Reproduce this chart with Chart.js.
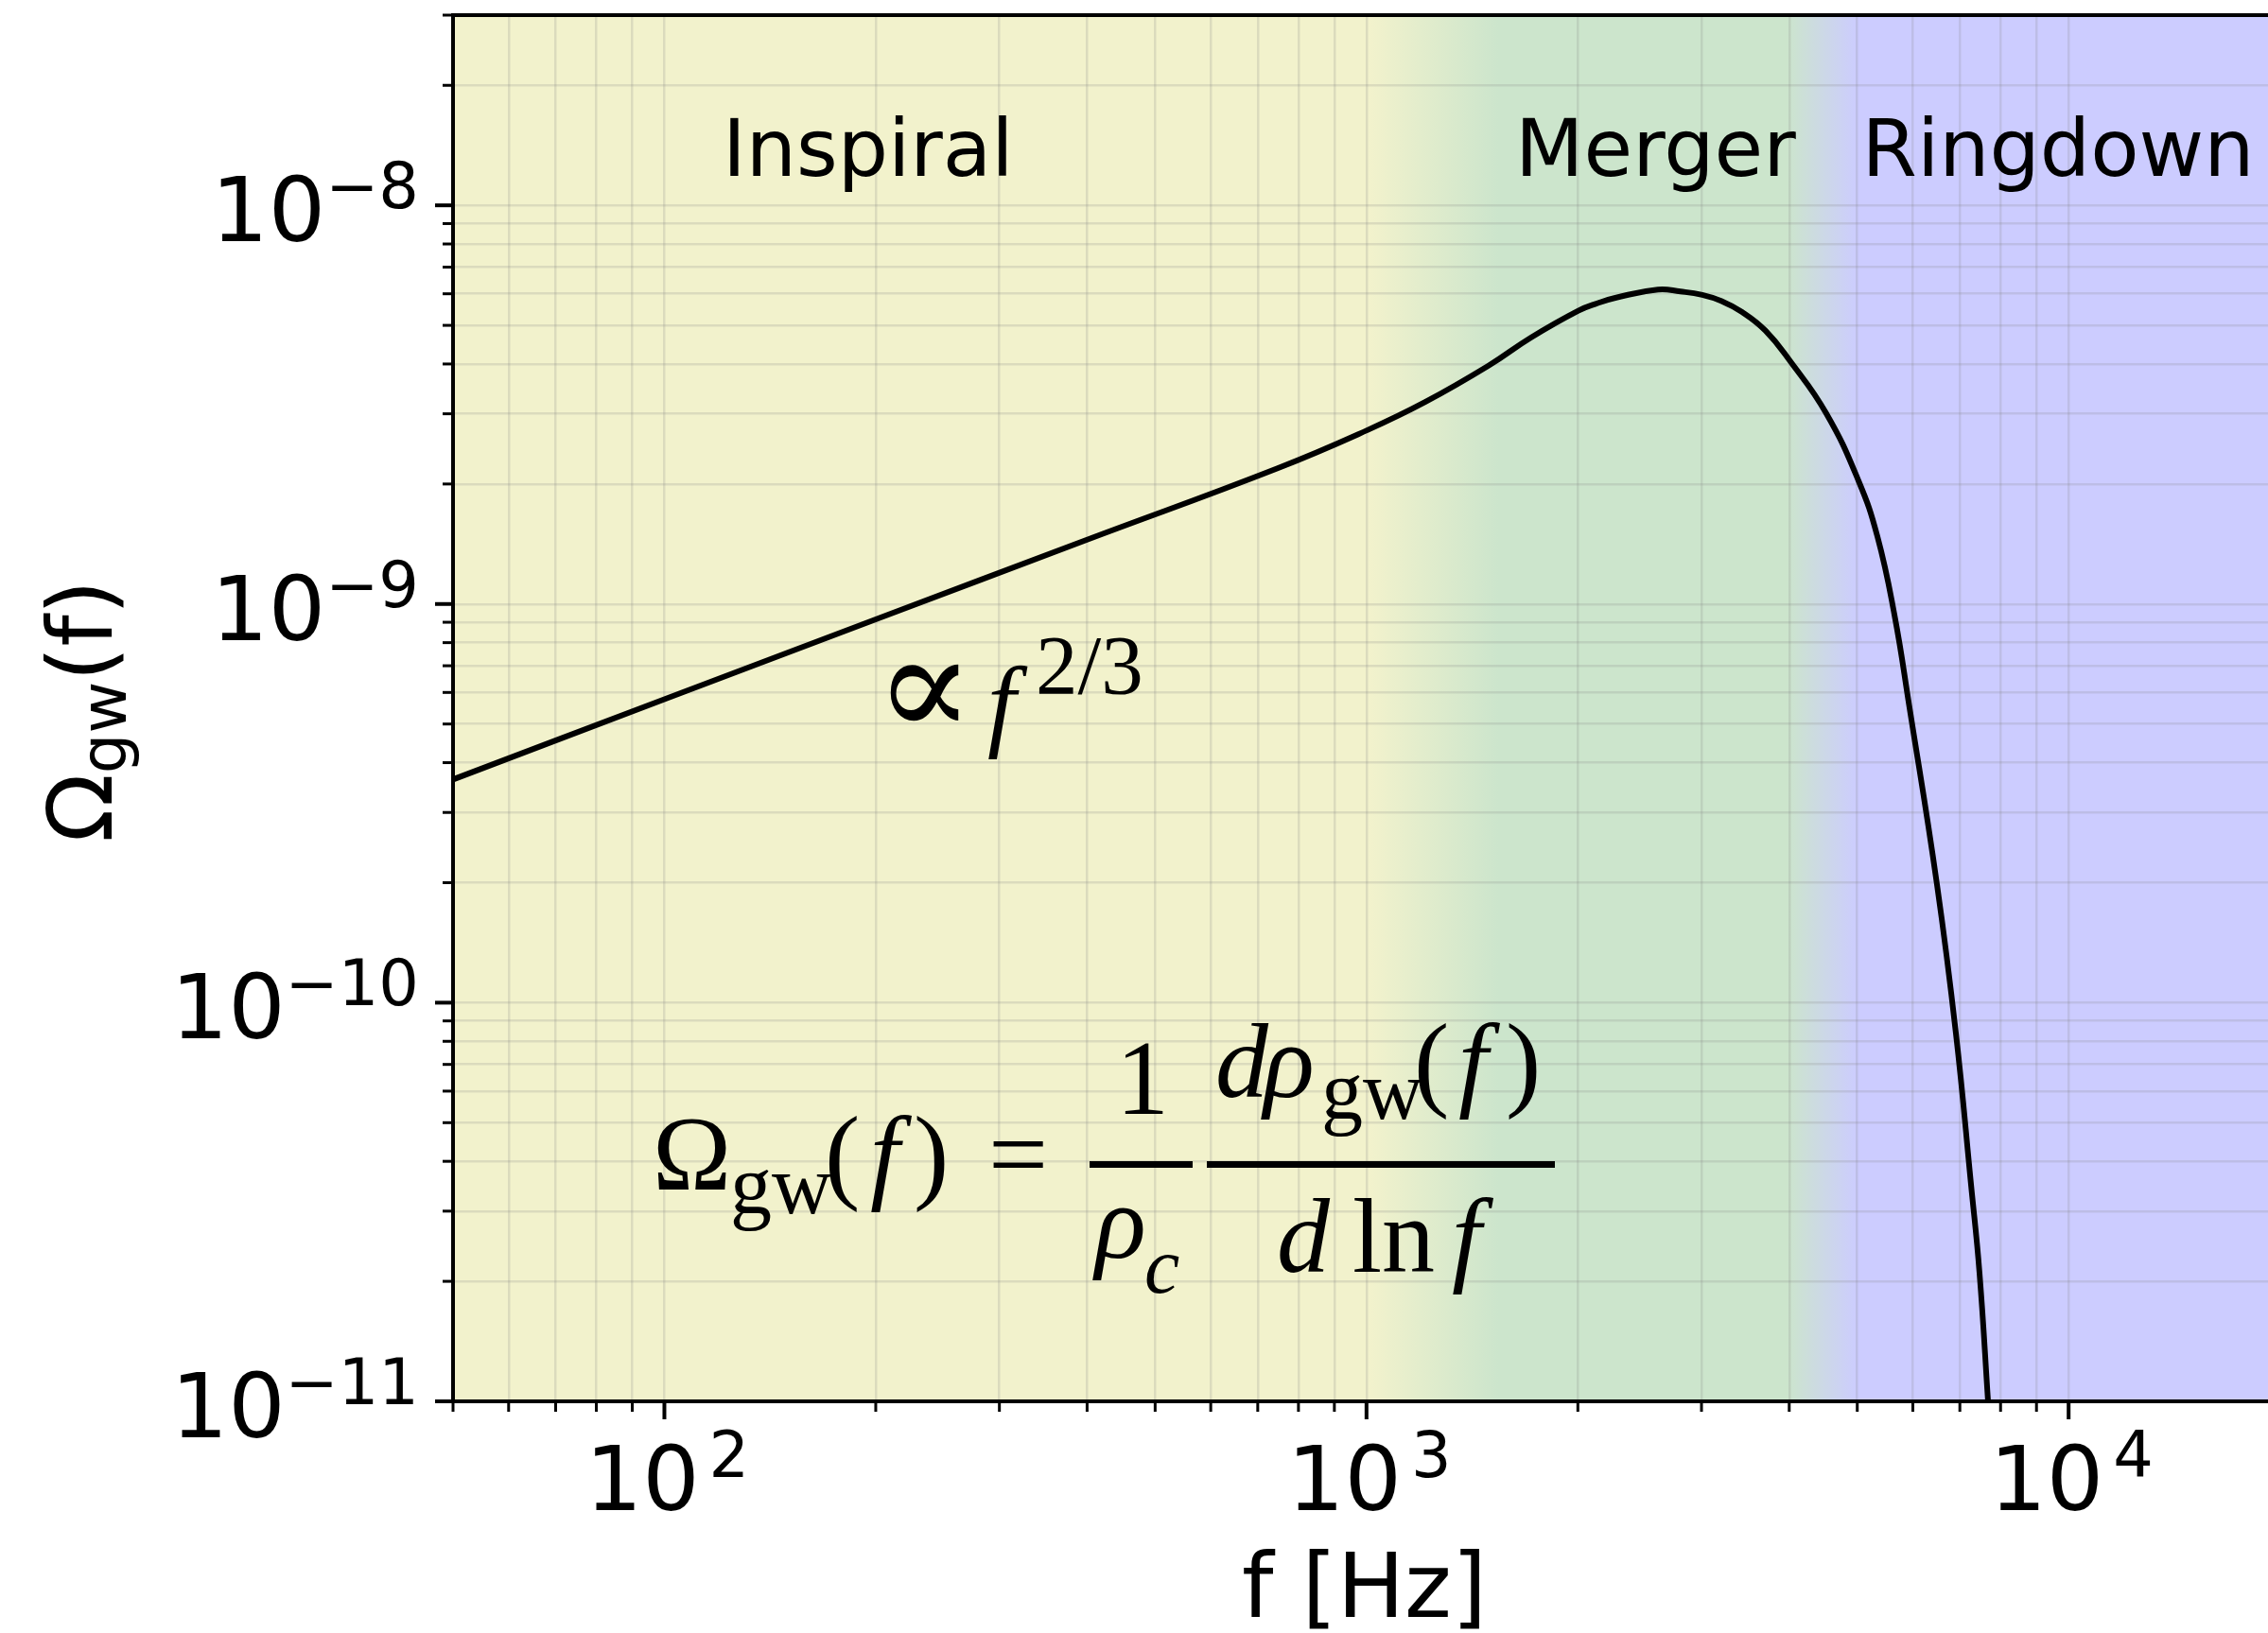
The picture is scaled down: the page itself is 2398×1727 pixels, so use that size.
<!DOCTYPE html>
<html>
<head>
<meta charset="utf-8">
<script src="https://cdn.jsdelivr.net/npm/chart.js@4.4.1/dist/chart.umd.min.js"></script>
<style>
  html, body { margin: 0; padding: 0; background: #fff; }
  #wrap { width: 2398px; height: 1727px; }
</style>
</head>
<body>
<div id="wrap"><canvas id="chart" width="2398" height="1727"></canvas></div>
<script>
// Ω_gw(f)
const freqHz = [50, 100, 200, 400, 747, 1003, 1212, 1492, 1715, 2003, 2132, 2261, 2600, 2800, 3008, 3200, 3427, 3700,
                4011, 4515, 5019, 5340, 5648, 5925, 6494, 6909, 7261, 7466, 7678, 7800];
const omegaGw = [3.63e-10, 5.77e-10, 9.15e-10, 1.45e-9, 2.19e-9, 2.73e-9, 3.21e-9, 3.96e-9, 4.66e-9, 5.44e-9,
                 5.68e-9, 5.86e-9, 6.15e-9, 6.08e-9, 5.96e-9, 5.76e-9, 5.40e-9, 4.85e-9,
                 4.07e-9, 3.01e-9, 2.04e-9, 1.48e-9, 9.4e-10, 5.6e-10, 1.98e-10, 8.4e-11, 3.5e-11, 2.1e-11,
                 1.0e-11, 6.5e-12];

// axes
const xMin = 50, xMax = 19230;
const yMin = 1e-11, yMax = 3e-8;
const xTicks = [50, 60, 70, 80, 90, 100, 200, 300, 400, 500, 600, 700, 800, 900,
                1000, 2000, 3000, 4000, 5000, 6000, 7000, 8000, 9000, 10000];
const yTicks = [1e-11, 2e-11, 3e-11, 4e-11, 5e-11, 6e-11, 7e-11, 8e-11, 9e-11,
                1e-10, 2e-10, 3e-10, 4e-10, 5e-10, 6e-10, 7e-10, 8e-10, 9e-10,
                1e-9, 2e-9, 3e-9, 4e-9, 5e-9, 6e-9, 7e-9, 8e-9, 9e-9,
                1e-8, 2e-8, 3e-8];
const xMajor = [100, 1000, 10000];
const xMajorExp = ['2', '3', '4'];
const yMajor = [1e-11, 1e-10, 1e-9, 1e-8];
const yMajorExp = ['\u221211', '\u221210', '\u22129', '\u22128'];

// phases (background bands) and their labels
const phaseNames = ['Inspiral', 'Merger', 'Ringdown'];
const phaseLabelHz = [195, 2580, 9660];
const phaseStops = [[50, 'rgb(242,242,204)'], [1010, 'rgb(242,242,204)'], [1540, 'rgb(204,229,204)'],
                    [3970, 'rgb(204,229,204)'], [5010, 'rgb(204,204,255)'], [19230, 'rgb(204,204,255)']];

const SANS = "'DejaVu Sans'";
const SERIF = "'Liberation Serif'";

function isMajor(v) {
    const l = Math.log10(v);
    return Math.abs(l - Math.round(l)) < 1e-9;
}

/** "10" с показателем степени */
function powerLabel(ctx, exp, x, y, align, gap) {
    ctx.font = `95px ${SANS}`;
    const wb = ctx.measureText('10').width;
    ctx.font = `67px ${SANS}`;
    const we = ctx.measureText(exp).width;
    const total = wb + gap + we;
    const x0 = align === 'right' ? x - total : x - total / 2;
    ctx.font = `95px ${SANS}`;
    ctx.fillText('10', x0, y);
    ctx.font = `67px ${SANS}`;
    ctx.fillText(exp, x0 + wb + gap, y - 35);
}

function put(ctx, text, font, x, y) {
    ctx.font = font;
    ctx.fillText(text, x, y);
}

const phasePlugin = {
    id: 'phases',
    beforeDraw(chart) {
        const { ctx, chartArea: a, scales: { x } } = chart;
        const w = a.right - a.left;
        const g = ctx.createLinearGradient(a.left, 0, a.right, 0);
        phaseStops.forEach(([hz, col]) => {
            const t = Math.min(1, Math.max(0, (x.getPixelForValue(hz) - a.left) / w));
            g.addColorStop(t, col);
        });
        ctx.save();
        ctx.fillStyle = g;
        ctx.fillRect(a.left, a.top, w, a.bottom - a.top);
        ctx.restore();
    }
};

const decorPlugin = {
    id: 'decor',
    afterDraw(chart) {
        const { ctx, chartArea: a, scales: { x, y } } = chart;
        ctx.save();
        ctx.strokeStyle = '#000';
        ctx.fillStyle = '#000';

        // spines
        ctx.lineWidth = 4;
        ctx.lineCap = 'square';
        ctx.beginPath();
        ctx.moveTo(a.right + 5, a.top);
        ctx.lineTo(a.left, a.top);
        ctx.lineTo(a.left, a.bottom);
        ctx.lineTo(a.right + 5, a.bottom);
        ctx.stroke();

        // tick marks
        ctx.lineCap = 'butt';
        xTicks.forEach(v => {
            const px = x.getPixelForValue(v);
            const major = isMajor(v);
            ctx.lineWidth = major ? 4 : 3;
            ctx.beginPath();
            ctx.moveTo(px, a.bottom);
            ctx.lineTo(px, a.bottom + (major ? 19 : 11));
            ctx.stroke();
        });
        yTicks.forEach(v => {
            const py = y.getPixelForValue(v);
            const major = isMajor(v);
            ctx.lineWidth = major ? 4 : 3;
            ctx.beginPath();
            ctx.moveTo(a.left, py);
            ctx.lineTo(a.left - (major ? 19 : 11), py);
            ctx.stroke();
        });

        // tick labels
        ctx.textAlign = 'left';
        ctx.textBaseline = 'alphabetic';
        xMajor.forEach((v, i) => powerLabel(ctx, xMajorExp[i], x.getPixelForValue(v) + 3, a.bottom + 115, 'center', 10));
        yMajor.forEach((v, i) => powerLabel(ctx, yMajorExp[i], a.left - 36, y.getPixelForValue(v) + 38, 'right', 0));

        // axis titles
        ctx.textAlign = 'center';
        put(ctx, 'f [Hz]', `95px ${SANS}`, (a.left + a.right) / 2 + 4, 1710);

        ctx.save();
        ctx.translate(118, 752);
        ctx.rotate(-Math.PI / 2);
        ctx.textAlign = 'left';
        ctx.font = `95px ${SANS}`;
        const wO = ctx.measureText('\u03A9').width, wP = ctx.measureText('(f)').width;
        ctx.font = `67px ${SANS}`;
        const wG = ctx.measureText('gw').width;
        const tx = -(wO + wG + wP) / 2;
        put(ctx, '\u03A9', `95px ${SANS}`, tx, 0);
        put(ctx, 'gw', `67px ${SANS}`, tx + wO, 15);
        put(ctx, '(f)', `95px ${SANS}`, tx + wO + wG, 0);
        ctx.restore();

        // phase labels
        ctx.textAlign = 'center';
        phaseNames.forEach((name, i) => put(ctx, name, `84px ${SANS}`, x.getPixelForValue(phaseLabelHz[i]), 186));

        // ∝ f^{2/3}
        ctx.textAlign = 'left';
        put(ctx, '\u221D', `155px 'DejaVu Serif'`, 925, 779);
        put(ctx, 'f', `italic 108px ${SERIF}`, 1044, 780);
        put(ctx, '2/3', `89px ${SERIF}`, 1095, 733);

        // Ω_gw(f) = 1/ρ_c · dρ_gw(f) / d ln f
        put(ctx, '\u03A9', `112px ${SERIF}`, 690, 1258);
        put(ctx, 'gw', `88px ${SERIF}`, 772, 1283);
        put(ctx, '(', `112px ${SERIF}`, 872, 1258);
        put(ctx, 'f', `italic 112px ${SERIF}`, 920, 1258);
        put(ctx, ')', `112px ${SERIF}`, 966, 1258);
        put(ctx, '=', `112px ${SERIF}`, 1045, 1258);
        ctx.fillRect(1152, 1228, 109, 7);
        ctx.fillRect(1276, 1228, 368, 7);
        put(ctx, '1', `112px ${SERIF}`, 1180, 1178);
        put(ctx, '\u03C1', `italic 112px ${SERIF}`, 1158, 1330);
        put(ctx, 'c', `italic 84px ${SERIF}`, 1210, 1367);
        put(ctx, 'd', `italic 112px ${SERIF}`, 1285, 1160);
        put(ctx, '\u03C1', `italic 112px ${SERIF}`, 1336, 1160);
        put(ctx, 'gw', `88px ${SERIF}`, 1397, 1183);
        put(ctx, '(', `112px ${SERIF}`, 1495, 1160);
        put(ctx, 'f', `italic 112px ${SERIF}`, 1542, 1160);
        put(ctx, ')', `112px ${SERIF}`, 1592, 1160);
        put(ctx, 'd', `italic 112px ${SERIF}`, 1350, 1345);
        put(ctx, 'ln', `112px ${SERIF}`, 1430, 1345);
        put(ctx, 'f', `italic 112px ${SERIF}`, 1535, 1345);

        ctx.restore();
    }
};

const gridStyle = { color: 'rgba(128,128,128,0.2)', lineWidth: 2.5, drawTicks: false };

new Chart(document.getElementById('chart').getContext('2d'), {
    type: 'line',
    data: {
        datasets: [{
            data: freqHz.map((f, i) => ({ x: f, y: omegaGw[i] })),
            borderColor: '#000',
            borderWidth: 6,
            pointRadius: 0,
            fill: false,
            tension: 0.45
        }]
    },
    options: {
        responsive: false,
        animation: false,
        devicePixelRatio: 1,
        layout: { padding: { left: 479, top: 16, right: 0, bottom: 245 } },
        plugins: { legend: { display: false }, tooltip: { enabled: false } },
        scales: {
            x: {
                type: 'logarithmic', min: xMin, max: xMax,
                afterBuildTicks: s => { s.ticks = xTicks.map(v => ({ value: v })); },
                ticks: { display: false },
                grid: gridStyle,
                border: { display: false }
            },
            y: {
                type: 'logarithmic', min: yMin, max: yMax,
                afterBuildTicks: s => { s.ticks = yTicks.map(v => ({ value: v })); },
                ticks: { display: false },
                grid: gridStyle,
                border: { display: false }
            }
        }
    },
    plugins: [phasePlugin, decorPlugin]
});
</script>
</body>
</html>
